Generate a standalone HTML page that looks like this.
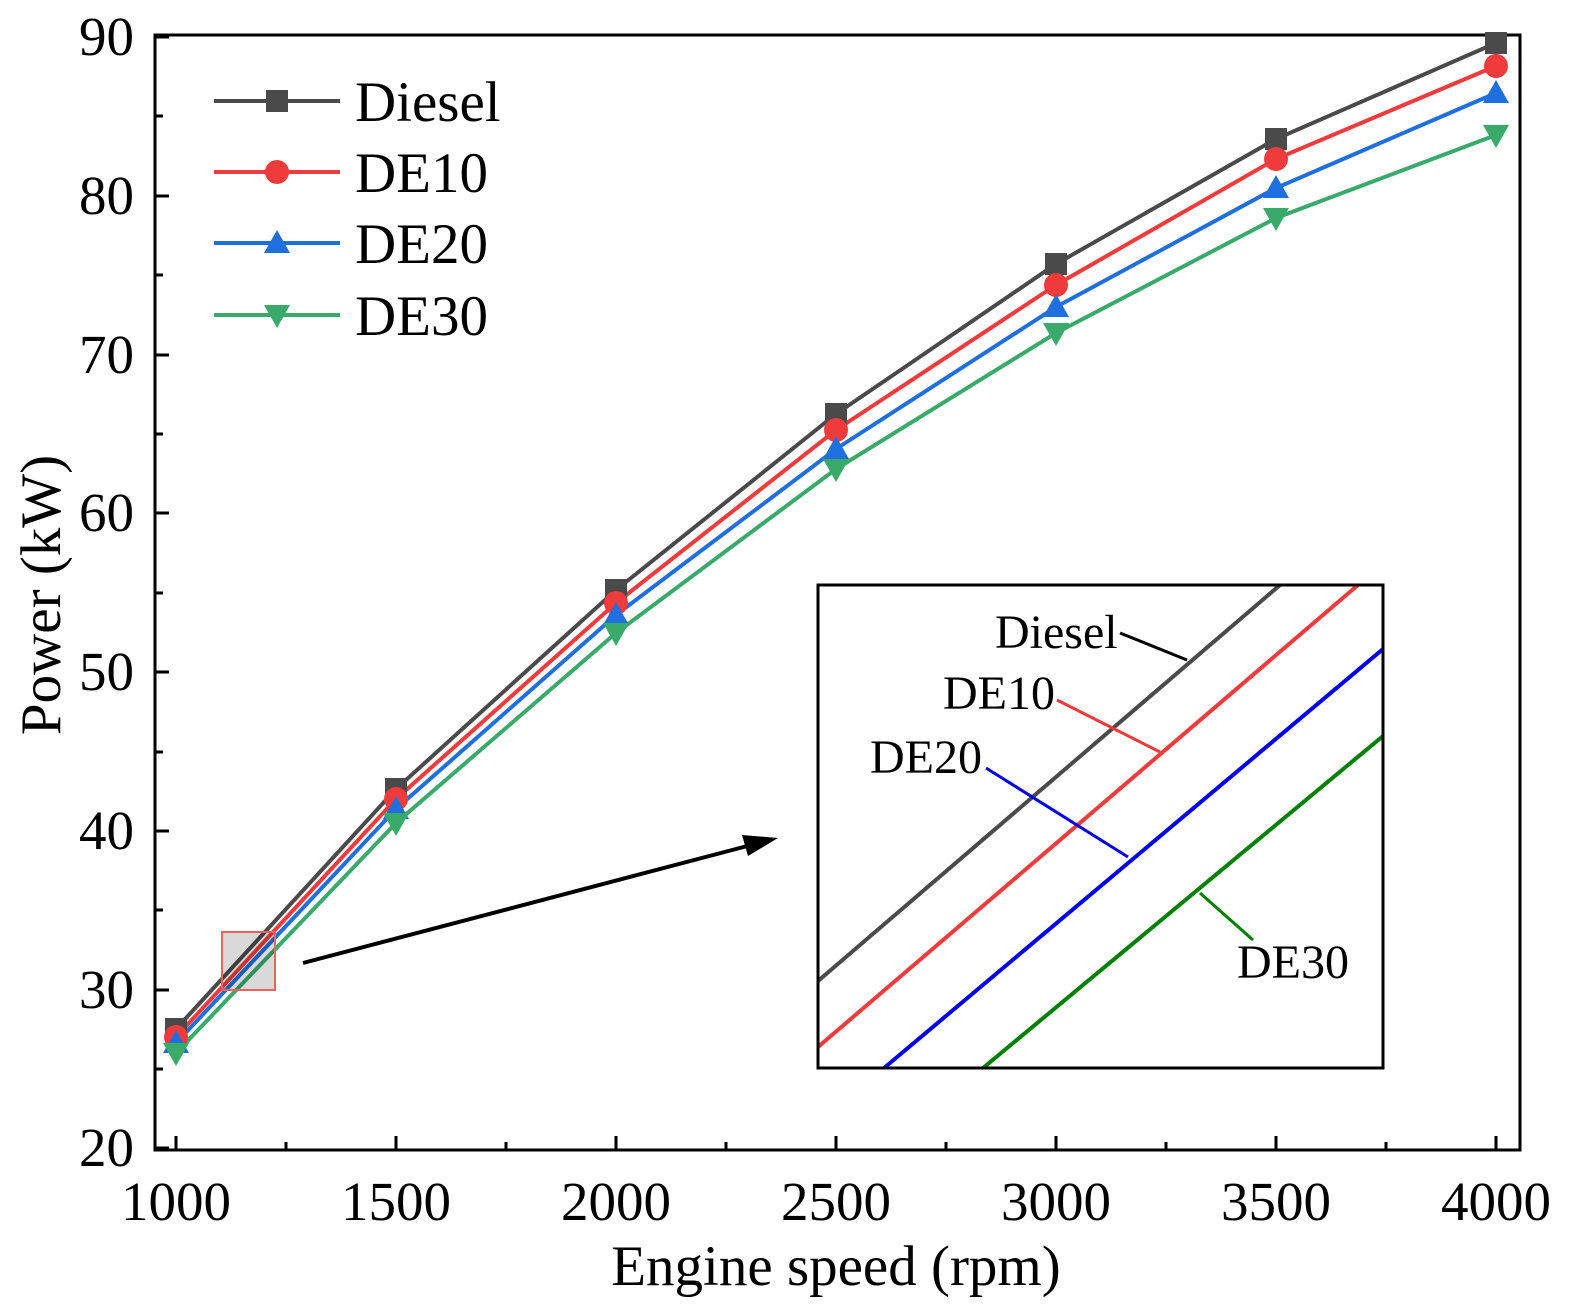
<!DOCTYPE html>
<html><head><style>body{margin:0;background:#fff}svg{display:block}</style></head><body>
<svg width="1574" height="1313" viewBox="0 0 1574 1313" xmlns="http://www.w3.org/2000/svg" font-family="Liberation Serif, serif">
<rect width="1574" height="1313" fill="#fff"/>
<g stroke="#000" stroke-width="3">
<rect x="155" y="35" width="1365" height="1115" fill="none"/>
<path d="M176 1150v-14M396 1150v-14M616 1150v-14M836 1150v-14M1056 1150v-14M1276 1150v-14M1496 1150v-14M286 1150v-8M506 1150v-8M726 1150v-8M946 1150v-8M1166 1150v-8M1386 1150v-8"/>
<path d="M155 37h14M155 196h14M155 355h14M155 513h14M155 672h14M155 831h14M155 990h14M155 1148h14M155 116h8M155 275h8M155 434h8M155 593h8M155 752h8M155 910h8M155 1069h8"/>
</g>
<g font-size="55" text-anchor="middle">
<text x="176" y="1220">1000</text><text x="396" y="1220">1500</text><text x="616" y="1220">2000</text><text x="836" y="1220">2500</text><text x="1056" y="1220">3000</text><text x="1276" y="1220">3500</text><text x="1496" y="1220">4000</text>
</g>
<g font-size="55" text-anchor="end">
<text x="134" y="55">90</text><text x="134" y="214">80</text><text x="134" y="373">70</text><text x="134" y="531">60</text><text x="134" y="690">50</text><text x="134" y="849">40</text><text x="134" y="1008">30</text><text x="134" y="1166">20</text>
</g>
<text x="836" y="1285" font-size="57" text-anchor="middle">Engine speed (rpm)</text>
<text transform="translate(60,595) rotate(-90)" font-size="57" text-anchor="middle">Power (kW)</text>

<defs>
<rect id="sq" x="-11" y="-11" width="22" height="22" fill="#4a4a4a"/>
<circle id="ci" r="12" fill="#ef3b3b"/>
<path id="tu" d="M0 -13L13 10H-13Z" fill="#1f6fdf"/>
<path id="td" d="M0 13L13 -10H-13Z" fill="#3aaa6a"/>
</defs>
<polyline fill="none" stroke="#4a4a4a" stroke-width="4" points="176,1029 396,789 616,590 836,414 1056,264 1276,139 1496,43"/>
<polyline fill="none" stroke="#ef3b3b" stroke-width="4" points="176,1037 396,799 616,603 836,430 1056,285 1276,159 1496,66"/>
<polyline fill="none" stroke="#1f6fdf" stroke-width="4" points="176,1043 396,809 616,615 836,449 1056,307 1276,188 1496,93"/>
<polyline fill="none" stroke="#3aaa6a" stroke-width="4" points="176,1053 396,823 616,633 836,469 1056,333 1276,218 1496,135"/>
<g><use href="#sq" x="176" y="1029"/><use href="#sq" x="396" y="789"/><use href="#sq" x="616" y="590"/><use href="#sq" x="836" y="414"/><use href="#sq" x="1056" y="264"/><use href="#sq" x="1276" y="139"/><use href="#sq" x="1496" y="43"/></g>
<g><use href="#ci" x="176" y="1037"/><use href="#ci" x="396" y="799"/><use href="#ci" x="616" y="603"/><use href="#ci" x="836" y="430"/><use href="#ci" x="1056" y="285"/><use href="#ci" x="1276" y="159"/><use href="#ci" x="1496" y="66"/></g>
<g><use href="#tu" x="176" y="1043"/><use href="#tu" x="396" y="809"/><use href="#tu" x="616" y="615"/><use href="#tu" x="836" y="449"/><use href="#tu" x="1056" y="307"/><use href="#tu" x="1276" y="188"/><use href="#tu" x="1496" y="93"/></g>
<g><use href="#td" x="176" y="1053"/><use href="#td" x="396" y="823"/><use href="#td" x="616" y="633"/><use href="#td" x="836" y="469"/><use href="#td" x="1056" y="333"/><use href="#td" x="1276" y="218"/><use href="#td" x="1496" y="135"/></g>

<g stroke-width="4" fill="none">
<path d="M214 101h126" stroke="#4a4a4a"/><path d="M214 172h126" stroke="#ef3b3b"/><path d="M214 243h126" stroke="#1f6fdf"/><path d="M214 315h126" stroke="#3aaa6a"/>
</g>
<use href="#sq" x="277" y="101"/><use href="#ci" x="277" y="172"/><use href="#tu" x="277" y="243"/><use href="#td" x="277" y="315"/>
<g font-size="57"><text x="355" y="121">Diesel</text><text x="355" y="192">DE10</text><text x="355" y="263">DE20</text><text x="355" y="335">DE30</text></g>

<rect x="222" y="932" width="53" height="58" fill="#000" fill-opacity="0.15" stroke="#ef6060" stroke-width="2"/>
<line x1="303" y1="963" x2="755" y2="844" stroke="#000" stroke-width="4"/>
<path d="M778 838L742 835L748 856Z" fill="#000"/>

<svg x="818" y="585" width="565" height="483" overflow="hidden">
<g stroke-width="4">
<line x1="0" y1="396" x2="462" y2="0" stroke="#4a4a4a"/>
<line x1="0" y1="462" x2="540" y2="0" stroke="#ef3b3b"/>
<line x1="66" y1="483" x2="565" y2="64" stroke="#0000ee"/>
<line x1="165" y1="483" x2="565" y2="151" stroke="#008000"/>
</g>
</svg>
<rect x="818" y="585" width="565" height="483" fill="none" stroke="#000" stroke-width="3"/>
<g stroke-width="3">
<line x1="1120" y1="633" x2="1187" y2="660" stroke="#000"/>
<line x1="1057" y1="700" x2="1160" y2="752" stroke="#ef3b3b"/>
<line x1="986" y1="768" x2="1128" y2="857" stroke="#0000ee"/>
<line x1="1200" y1="893" x2="1253" y2="940" stroke="#008000"/>
</g>
<g font-size="48"><text x="995" y="648">Diesel</text><text x="943" y="709">DE10</text><text x="870" y="773">DE20</text><text x="1237" y="978">DE30</text></g>
</svg>
</body></html>
